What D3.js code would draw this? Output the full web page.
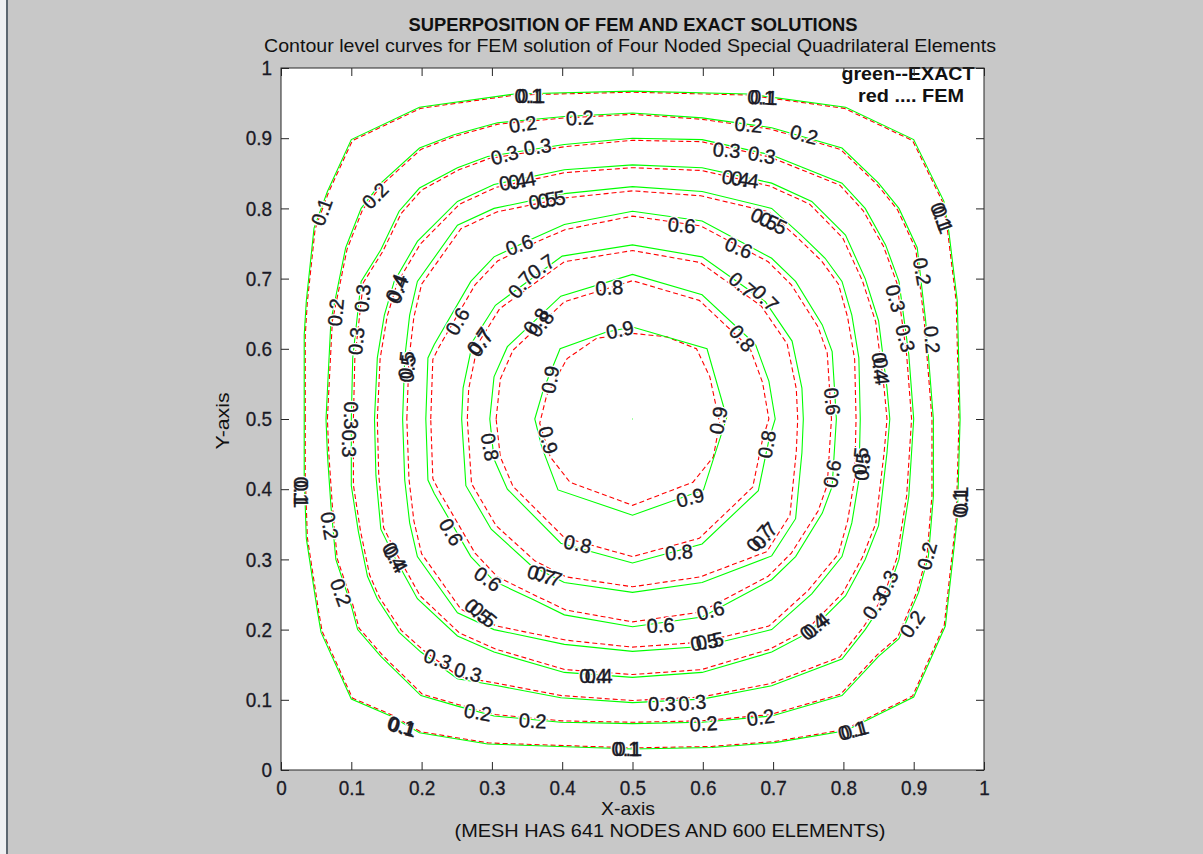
<!DOCTYPE html>
<html>
<head>
<meta charset="utf-8">
<script src="https://cdn.jsdelivr.net/npm/d3@7"></script>
<style>
  body { margin: 0; background: #c8c8c8; }
  svg { display: block; }
</style>
</head>
<body>
<svg id="fig" width="1203" height="854"></svg>
<script>
// contour levels in data units (x, y)
const levels = [0.1, 0.2, 0.3, 0.4, 0.5, 0.6, 0.7, 0.8, 0.9];

const exact01 = [[0.033,0.500],[0.033,0.620],[0.036,0.668],[0.047,0.772],[0.066,0.824],[0.100,0.898],[0.197,0.944],[0.332,0.963],[0.500,0.967],[0.665,0.963],[0.803,0.944],[0.900,0.898],[0.943,0.810],[0.950,0.767],[0.962,0.668],[0.966,0.500],[0.962,0.358],[0.945,0.205],[0.900,0.104],[0.803,0.056],[0.703,0.039],[0.613,0.032],[0.500,0.030],[0.294,0.037],[0.197,0.053],[0.156,0.077],[0.100,0.101],[0.057,0.196],[0.052,0.225],[0.036,0.330],[0.033,0.420]];
const exact02 = [[0.064,0.500],[0.071,0.640],[0.092,0.744],[0.114,0.800],[0.142,0.836],[0.197,0.886],[0.246,0.905],[0.308,0.922],[0.403,0.931],[0.500,0.936],[0.599,0.929],[0.698,0.915],[0.798,0.886],[0.850,0.836],[0.879,0.800],[0.905,0.744],[0.917,0.640],[0.928,0.500],[0.928,0.390],[0.921,0.305],[0.907,0.253],[0.879,0.187],[0.850,0.162],[0.798,0.106],[0.698,0.077],[0.599,0.068],[0.500,0.066],[0.398,0.068],[0.303,0.077],[0.251,0.091],[0.199,0.106],[0.142,0.162],[0.109,0.200],[0.100,0.234],[0.078,0.300],[0.071,0.376],[0.066,0.450]];
const exact03 = [[0.100,0.500],[0.102,0.587],[0.114,0.696],[0.142,0.741],[0.168,0.796],[0.197,0.829],[0.251,0.858],[0.294,0.874],[0.403,0.891],[0.500,0.900],[0.599,0.898],[0.698,0.876],[0.798,0.836],[0.831,0.800],[0.860,0.748],[0.879,0.696],[0.893,0.592],[0.900,0.500],[0.893,0.390],[0.879,0.300],[0.860,0.244],[0.831,0.200],[0.798,0.158],[0.698,0.120],[0.599,0.101],[0.500,0.096],[0.398,0.103],[0.308,0.120],[0.251,0.130],[0.199,0.168],[0.168,0.196],[0.137,0.244],[0.123,0.276],[0.110,0.340],[0.100,0.405]];
const exact04 = [[0.133,0.500],[0.137,0.587],[0.147,0.648],[0.161,0.696],[0.194,0.753],[0.251,0.810],[0.303,0.834],[0.403,0.855],[0.500,0.862],[0.599,0.858],[0.698,0.836],[0.755,0.810],[0.803,0.762],[0.831,0.700],[0.850,0.640],[0.862,0.544],[0.866,0.500],[0.862,0.452],[0.850,0.348],[0.831,0.300],[0.803,0.248],[0.751,0.196],[0.698,0.168],[0.599,0.139],[0.500,0.132],[0.403,0.139],[0.303,0.168],[0.251,0.191],[0.194,0.244],[0.161,0.304],[0.142,0.343],[0.135,0.420]];
const exact05 = [[0.173,0.500],[0.176,0.587],[0.183,0.648],[0.194,0.696],[0.251,0.776],[0.303,0.800],[0.403,0.821],[0.500,0.831],[0.599,0.824],[0.698,0.800],[0.740,0.762],[0.774,0.729],[0.798,0.696],[0.812,0.648],[0.822,0.587],[0.824,0.500],[0.822,0.413],[0.812,0.352],[0.798,0.304],[0.755,0.251],[0.698,0.200],[0.599,0.176],[0.500,0.169],[0.403,0.179],[0.303,0.200],[0.251,0.224],[0.194,0.304],[0.183,0.352],[0.176,0.413]];
const exact06 = [[0.206,0.500],[0.209,0.587],[0.218,0.606],[0.270,0.696],[0.303,0.731],[0.360,0.758],[0.403,0.777],[0.500,0.796],[0.599,0.782],[0.698,0.729],[0.732,0.696],[0.770,0.634],[0.784,0.596],[0.790,0.500],[0.784,0.404],[0.770,0.366],[0.732,0.304],[0.698,0.271],[0.599,0.218],[0.500,0.204],[0.403,0.221],[0.360,0.242],[0.303,0.269],[0.270,0.304],[0.218,0.394],[0.209,0.413]];
const exact07 = [[0.257,0.500],[0.259,0.544],[0.273,0.611],[0.305,0.662],[0.400,0.732],[0.500,0.748],[0.599,0.731],[0.689,0.667],[0.727,0.611],[0.741,0.544],[0.743,0.500],[0.741,0.452],[0.732,0.358],[0.698,0.305],[0.599,0.267],[0.500,0.253],[0.403,0.267],[0.356,0.291],[0.299,0.343],[0.263,0.405]];
const exact08 = [[0.297,0.500],[0.303,0.560],[0.322,0.603],[0.398,0.675],[0.500,0.706],[0.599,0.677],[0.675,0.606],[0.694,0.554],[0.703,0.500],[0.694,0.470],[0.679,0.398],[0.599,0.322],[0.500,0.295],[0.398,0.323],[0.322,0.400],[0.303,0.443]];
const exact09 = [[0.361,0.500],[0.373,0.541],[0.397,0.600],[0.463,0.624],[0.500,0.631],[0.606,0.600],[0.634,0.502],[0.601,0.399],[0.500,0.363],[0.394,0.399],[0.371,0.460]];
const exactPeak = [[0.4995,0.500],[0.5005,0.500]];

// FEM curves, a hair inside the exact ones on the outer levels
const fem01 = [[0.0345,0.500],[0.0345,0.619],[0.0375,0.667],[0.0485,0.7705],[0.0675,0.8225],[0.1015,0.8965],[0.1985,0.9425],[0.333,0.9615],[0.500,0.9655],[0.664,0.9615],[0.8015,0.9425],[0.8985,0.8965],[0.9415,0.8085],[0.9485,0.7655],[0.9605,0.667],[0.9645,0.500],[0.9605,0.359],[0.9435,0.2065],[0.8985,0.1055],[0.8015,0.0575],[0.7015,0.0405],[0.612,0.0335],[0.500,0.0315],[0.2955,0.0385],[0.1985,0.0545],[0.1575,0.0785],[0.1015,0.1025],[0.0585,0.1975],[0.0535,0.2265],[0.0375,0.331],[0.0345,0.420]];
const fem02 = [[0.066,0.500],[0.073,0.639],[0.094,0.742],[0.116,0.798],[0.144,0.834],[0.199,0.884],[0.248,0.903],[0.309,0.920],[0.404,0.929],[0.500,0.934],[0.598,0.927],[0.696,0.913],[0.796,0.884],[0.848,0.834],[0.877,0.798],[0.903,0.742],[0.915,0.639],[0.926,0.500],[0.926,0.391],[0.919,0.307],[0.905,0.255],[0.877,0.189],[0.848,0.164],[0.796,0.108],[0.696,0.079],[0.598,0.070],[0.500,0.068],[0.399,0.070],[0.305,0.079],[0.253,0.093],[0.201,0.108],[0.144,0.164],[0.111,0.202],[0.102,0.236],[0.080,0.301],[0.073,0.377],[0.068,0.451]];
const fem03 = [[0.103,0.500],[0.105,0.586],[0.117,0.694],[0.145,0.739],[0.171,0.793],[0.200,0.826],[0.253,0.855],[0.296,0.871],[0.404,0.888],[0.500,0.897],[0.598,0.895],[0.696,0.873],[0.795,0.833],[0.828,0.797],[0.857,0.746],[0.876,0.694],[0.890,0.591],[0.897,0.500],[0.890,0.391],[0.876,0.302],[0.857,0.247],[0.828,0.203],[0.795,0.161],[0.696,0.123],[0.598,0.104],[0.500,0.099],[0.399,0.106],[0.310,0.123],[0.253,0.133],[0.202,0.171],[0.171,0.199],[0.140,0.246],[0.126,0.278],[0.113,0.341],[0.103,0.406]];
const fem04 = [[0.137,0.500],[0.141,0.586],[0.151,0.646],[0.165,0.693],[0.198,0.749],[0.254,0.806],[0.306,0.830],[0.404,0.851],[0.500,0.858],[0.598,0.854],[0.695,0.832],[0.752,0.806],[0.799,0.758],[0.827,0.697],[0.846,0.638],[0.858,0.543],[0.862,0.500],[0.858,0.453],[0.846,0.351],[0.827,0.303],[0.799,0.252],[0.748,0.200],[0.695,0.172],[0.598,0.143],[0.500,0.136],[0.404,0.143],[0.306,0.172],[0.254,0.195],[0.198,0.248],[0.165,0.307],[0.146,0.345],[0.139,0.421]];
const fem05 = [[0.179,0.500],[0.182,0.585],[0.189,0.645],[0.200,0.692],[0.256,0.771],[0.307,0.795],[0.405,0.815],[0.500,0.825],[0.597,0.818],[0.694,0.795],[0.736,0.757],[0.769,0.725],[0.793,0.692],[0.806,0.645],[0.816,0.585],[0.818,0.500],[0.816,0.415],[0.806,0.355],[0.793,0.308],[0.750,0.256],[0.694,0.205],[0.597,0.182],[0.500,0.175],[0.405,0.185],[0.307,0.205],[0.256,0.229],[0.200,0.308],[0.189,0.355],[0.182,0.415]];
const fem06 = [[0.213,0.500],[0.216,0.585],[0.225,0.603],[0.276,0.691],[0.308,0.725],[0.363,0.752],[0.405,0.770],[0.500,0.789],[0.597,0.775],[0.693,0.724],[0.726,0.691],[0.764,0.631],[0.777,0.594],[0.783,0.500],[0.777,0.406],[0.764,0.369],[0.726,0.309],[0.693,0.276],[0.597,0.225],[0.500,0.211],[0.405,0.228],[0.363,0.248],[0.308,0.275],[0.276,0.309],[0.225,0.397],[0.216,0.415]];
const fem07 = [[0.265,0.500],[0.267,0.543],[0.280,0.607],[0.311,0.657],[0.403,0.724],[0.500,0.740],[0.596,0.723],[0.683,0.661],[0.720,0.607],[0.733,0.543],[0.735,0.500],[0.733,0.454],[0.724,0.363],[0.691,0.311],[0.596,0.275],[0.500,0.261],[0.406,0.275],[0.361,0.298],[0.306,0.348],[0.271,0.408]];
const fem08 = [[0.306,0.500],[0.312,0.557],[0.330,0.598],[0.403,0.667],[0.500,0.697],[0.595,0.669],[0.667,0.601],[0.685,0.552],[0.694,0.500],[0.685,0.471],[0.671,0.403],[0.595,0.330],[0.500,0.304],[0.403,0.331],[0.330,0.404],[0.312,0.446]];
const fem09 = [[0.500,0.622],[0.549,0.617],[0.591,0.600],[0.610,0.560],[0.624,0.494],[0.615,0.446],[0.586,0.410],[0.500,0.377],[0.411,0.410],[0.383,0.446],[0.368,0.494],[0.378,0.534],[0.407,0.586],[0.449,0.615]];

// contour labels: text, x, y, angle (degrees)
const labelSpots = [
  ["0.1",0.352,0.960,0],["0.1",0.356,0.960,0],["0.1",0.683,0.958,3],["0.1",0.687,0.958,3],
  ["0.2",0.344,0.920,-8],["0.2",0.425,0.929,-3],["0.2",0.665,0.919,5],["0.2",0.744,0.905,15],
  ["0.3",0.318,0.876,-15],["0.3",0.365,0.888,-8],["0.3",0.634,0.883,5],["0.3",0.684,0.876,10],
  ["0.4",0.330,0.838,-10],["0.4",0.343,0.840,-10],["0.4",0.647,0.843,8],["0.4",0.660,0.841,8],
  ["0.5",0.372,0.811,-10],["0.5",0.385,0.813,-10],["0.5",0.688,0.785,25],["0.5",0.700,0.779,25],
  ["0.6",0.339,0.748,-20],["0.6",0.570,0.776,5],["0.6",0.651,0.744,22],
  ["0.7",0.341,0.691,-50],["0.7",0.370,0.717,-35],["0.7",0.656,0.691,40],["0.7",0.689,0.672,45],
  ["0.8",0.467,0.687,-3],["0.8",0.363,0.639,-50],["0.8",0.370,0.636,-50],["0.8",0.656,0.615,50],
  ["0.9",0.482,0.627,-12],["0.9",0.383,0.556,-80],["0.9",0.380,0.470,75],
  ["0.1",0.058,0.795,-70],["0.2",0.134,0.818,-45],["0.2",0.078,0.652,-85],
  ["0.3",0.116,0.672,-85],["0.3",0.107,0.611,-85],["0.3",0.099,0.505,90],["0.3",0.097,0.465,90],
  ["0.4",0.164,0.687,-70],["0.4",0.166,0.684,-70],["0.5",0.178,0.577,-85],["0.5",0.180,0.572,-85],
  ["0.6",0.251,0.639,-60],["0.7",0.282,0.611,-55],["0.7",0.284,0.608,-55],
  ["0.1",0.028,0.398,90],["0.1",0.029,0.393,90],["0.2",0.069,0.348,80],["0.2",0.085,0.253,70],
  ["0.4",0.161,0.305,60],["0.4",0.163,0.300,60],["0.6",0.242,0.339,60],["0.8",0.297,0.460,80],
  ["0.8",0.422,0.322,12],["0.7",0.370,0.278,18],["0.7",0.380,0.276,18],["0.6",0.294,0.272,35],
  ["0.5",0.280,0.226,40],["0.5",0.288,0.221,40],["0.3",0.223,0.158,20],["0.3",0.266,0.139,15],
  ["0.4",0.444,0.134,0],["0.4",0.452,0.134,0],["0.2",0.280,0.082,10],["0.2",0.358,0.070,3],
  ["0.1",0.171,0.063,15],["0.1",0.173,0.061,15],["0.1",0.490,0.030,0],["0.1",0.494,0.030,0],
  ["0.9",0.582,0.388,-15],["0.9",0.622,0.498,-80],["0.8",0.691,0.464,-80],["0.8",0.566,0.310,-5],
  ["0.7",0.680,0.330,-50],["0.7",0.688,0.334,-50],["0.6",0.784,0.422,-80],
  ["0.5",0.824,0.440,-85],["0.5",0.827,0.432,-85],["0.6",0.540,0.206,-3],["0.6",0.611,0.227,-15],
  ["0.5",0.602,0.182,-10],["0.5",0.610,0.184,-10],["0.4",0.757,0.203,-40],["0.4",0.762,0.206,-40],
  ["0.3",0.845,0.234,-55],["0.3",0.862,0.265,-65],["0.2",0.898,0.208,-55],["0.2",0.919,0.305,-75],
  ["0.1",0.966,0.379,-90],["0.1",0.967,0.384,-90],["0.3",0.542,0.094,0],["0.3",0.585,0.096,-5],
  ["0.2",0.601,0.066,-3],["0.2",0.682,0.075,-8],["0.1",0.812,0.056,-15],["0.1",0.816,0.057,-15],
  ["0.1",0.939,0.789,70],["0.1",0.941,0.784,70],["0.2",0.912,0.710,80],["0.2",0.926,0.613,85],
  ["0.3",0.874,0.672,75],["0.3",0.888,0.615,75],["0.4",0.852,0.575,85],["0.4",0.854,0.568,85],
  ["0.6",0.784,0.525,85]
];

const xTicks = [0, 0.1, 0.2, 0.3, 0.4, 0.5, 0.6, 0.7, 0.8, 0.9, 1];
const yTicks = [0, 0.1, 0.2, 0.3, 0.4, 0.5, 0.6, 0.7, 0.8, 0.9, 1];
const tickLabels = ["0","0.1","0.2","0.3","0.4","0.5","0.6","0.7","0.8","0.9","1"];

const exactCurves = [exact01, exact02, exact03, exact04, exact05, exact06, exact07, exact08, exact09];
const femCurves = [fem01, fem02, fem03, fem04, fem05, fem06, fem07, fem08, fem09];

// ---------------------------------------------------------------
const svg = d3.select("#fig");
const font = "'Liberation Sans', Arial, sans-serif";
const ink = "#1a1a26";
const x = d3.scaleLinear().domain([0, 1]).range([281, 984]);
const y = d3.scaleLinear().domain([0, 1]).range([770, 68]);

// figure background + window edge
svg.append("rect").attr("width", 1203).attr("height", 854).attr("fill", "#c8c8c8");
svg.append("rect").attr("width", 6).attr("height", 854).attr("fill", "#eef0f2");
svg.append("rect").attr("x", 6).attr("width", 2).attr("height", 854).attr("fill", "#5c6770");

// plot area
svg.append("rect")
  .attr("x", x(0)).attr("y", y(1))
  .attr("width", x(1) - x(0)).attr("height", y(0) - y(1))
  .attr("fill", "#fff");

svg.append("clipPath").attr("id", "plotclip")
  .append("rect")
  .attr("x", x(0)).attr("y", y(1))
  .attr("width", x(1) - x(0)).attr("height", y(0) - y(1));

const plot = svg.append("g").attr("clip-path", "url(#plotclip)");

const ring = d3.line().x(d => x(d[0])).y(d => y(d[1])).curve(d3.curveLinearClosed);
const open = d3.line().x(d => x(d[0])).y(d => y(d[1]));

// FEM solution (red dashed) underneath
plot.selectAll("path.fem")
  .data(femCurves)
  .join("path")
  .attr("class", "fem")
  .attr("fill", "none")
  .attr("stroke", "#ff0000")
  .attr("stroke-width", 1.1)
  .attr("stroke-dasharray", "5,3")
  .attr("d", ring);

// exact solution (green solid)
plot.selectAll("path.exact")
  .data(exactCurves)
  .join("path")
  .attr("class", "exact")
  .attr("fill", "none")
  .attr("stroke", "#00ff00")
  .attr("stroke-width", 1.1)
  .attr("d", ring);

plot.append("path")
  .datum(exactPeak)
  .attr("fill", "none")
  .attr("stroke", "#00ff00")
  .attr("stroke-width", 1.2)
  .attr("d", open);

// contour labels: white halo first so lines look broken, then the text
const labelPos = d => `translate(${x(d[1])},${y(d[2])}) rotate(${d[3]})`;

plot.selectAll("text.halo")
  .data(labelSpots)
  .join("text")
  .attr("class", "halo")
  .attr("transform", labelPos)
  .attr("text-anchor", "middle")
  .attr("dy", "0.35em")
  .attr("font-family", font)
  .attr("font-size", 20)
  .attr("fill", "#fff")
  .attr("stroke", "#fff")
  .attr("stroke-width", 3)
  .attr("stroke-linejoin", "round")
  .text(d => d[0]);

plot.selectAll("text.clabel")
  .data(labelSpots)
  .join("text")
  .attr("class", "clabel")
  .attr("transform", labelPos)
  .attr("text-anchor", "middle")
  .attr("dy", "0.35em")
  .attr("font-family", font)
  .attr("font-size", 20)
  .attr("fill", ink)
  .attr("stroke", ink)
  .attr("stroke-width", 0.35)
  .text(d => d[0]);

// legend note in the corner
svg.append("text")
  .attr("x", 908).attr("y", 80)
  .attr("text-anchor", "middle")
  .attr("font-family", font).attr("font-weight", "bold").attr("font-size", 18)
  .attr("textLength", 133).attr("lengthAdjust", "spacingAndGlyphs")
  .attr("fill", "#111")
  .text("green--EXACT");

svg.append("text")
  .attr("x", 911).attr("y", 102)
  .attr("text-anchor", "middle")
  .attr("font-family", font).attr("font-weight", "bold").attr("font-size", 18)
  .attr("textLength", 106).attr("lengthAdjust", "spacingAndGlyphs")
  .attr("fill", "#111")
  .text("red .... FEM");

// axes: ticks point inwards on all four sides
const axisColor = "#262626";

const gx = svg.append("g").attr("transform", `translate(0,${y(0)})`)
  .call(d3.axisBottom(x).tickValues(xTicks).tickSize(-8).tickPadding(10)
    .tickFormat((d, i) => tickLabels[i]));
const gxTop = svg.append("g").attr("transform", `translate(0,${y(1)})`)
  .call(d3.axisTop(x).tickValues(xTicks).tickSize(-8).tickFormat(""));
const gy = svg.append("g").attr("transform", `translate(${x(0)},0)`)
  .call(d3.axisLeft(y).tickValues(yTicks).tickSize(-8).tickPadding(9)
    .tickFormat((d, i) => tickLabels[i]));
const gyRight = svg.append("g").attr("transform", `translate(${x(1)},0)`)
  .call(d3.axisRight(y).tickValues(yTicks).tickSize(-8).tickFormat(""));

[gx, gxTop, gy, gyRight].forEach(g => {
  g.select(".domain").remove();
  g.selectAll(".tick line").attr("stroke", axisColor);
  g.selectAll(".tick text")
    .attr("font-family", font)
    .attr("font-size", 21)
    .attr("fill", ink)
    .attr("stroke", ink)
    .attr("stroke-width", 0.3)
    .each(function () {
      // the tick font is a little narrower than Arial
      const w = this.getComputedTextLength();
      d3.select(this).attr("textLength", w * 0.9).attr("lengthAdjust", "spacingAndGlyphs");
    });
});

svg.append("rect")
  .attr("x", x(0)).attr("y", y(1))
  .attr("width", x(1) - x(0)).attr("height", y(0) - y(1))
  .attr("fill", "none")
  .attr("stroke", axisColor)
  .attr("stroke-width", 1);

// titles
svg.append("text")
  .attr("x", 633).attr("y", 31)
  .attr("text-anchor", "middle")
  .attr("font-family", font).attr("font-weight", "bold").attr("font-size", 19)
  .attr("textLength", 449).attr("lengthAdjust", "spacingAndGlyphs")
  .attr("fill", "#111")
  .text("SUPERPOSITION OF FEM AND EXACT SOLUTIONS");

svg.append("text")
  .attr("x", 630).attr("y", 52)
  .attr("text-anchor", "middle")
  .attr("font-family", font).attr("font-size", 19)
  .attr("textLength", 732).attr("lengthAdjust", "spacingAndGlyphs")
  .attr("fill", "#111")
  .text("Contour level curves for FEM solution of Four Noded Special Quadrilateral Elements");

svg.append("text")
  .attr("x", 628).attr("y", 815)
  .attr("text-anchor", "middle")
  .attr("font-family", font).attr("font-size", 19)
  .attr("textLength", 54).attr("lengthAdjust", "spacingAndGlyphs")
  .attr("fill", "#111")
  .text("X-axis");

svg.append("text")
  .attr("x", 670).attr("y", 837)
  .attr("text-anchor", "middle")
  .attr("font-family", font).attr("font-size", 19)
  .attr("textLength", 431).attr("lengthAdjust", "spacingAndGlyphs")
  .attr("fill", "#111")
  .text("(MESH HAS 641 NODES AND 600 ELEMENTS)");

svg.append("text")
  .attr("transform", "translate(229,421) rotate(-90)")
  .attr("text-anchor", "middle")
  .attr("font-family", font).attr("font-size", 19)
  .attr("textLength", 57).attr("lengthAdjust", "spacingAndGlyphs")
  .attr("fill", "#111")
  .text("Y-axis");
</script>
</body>
</html>
